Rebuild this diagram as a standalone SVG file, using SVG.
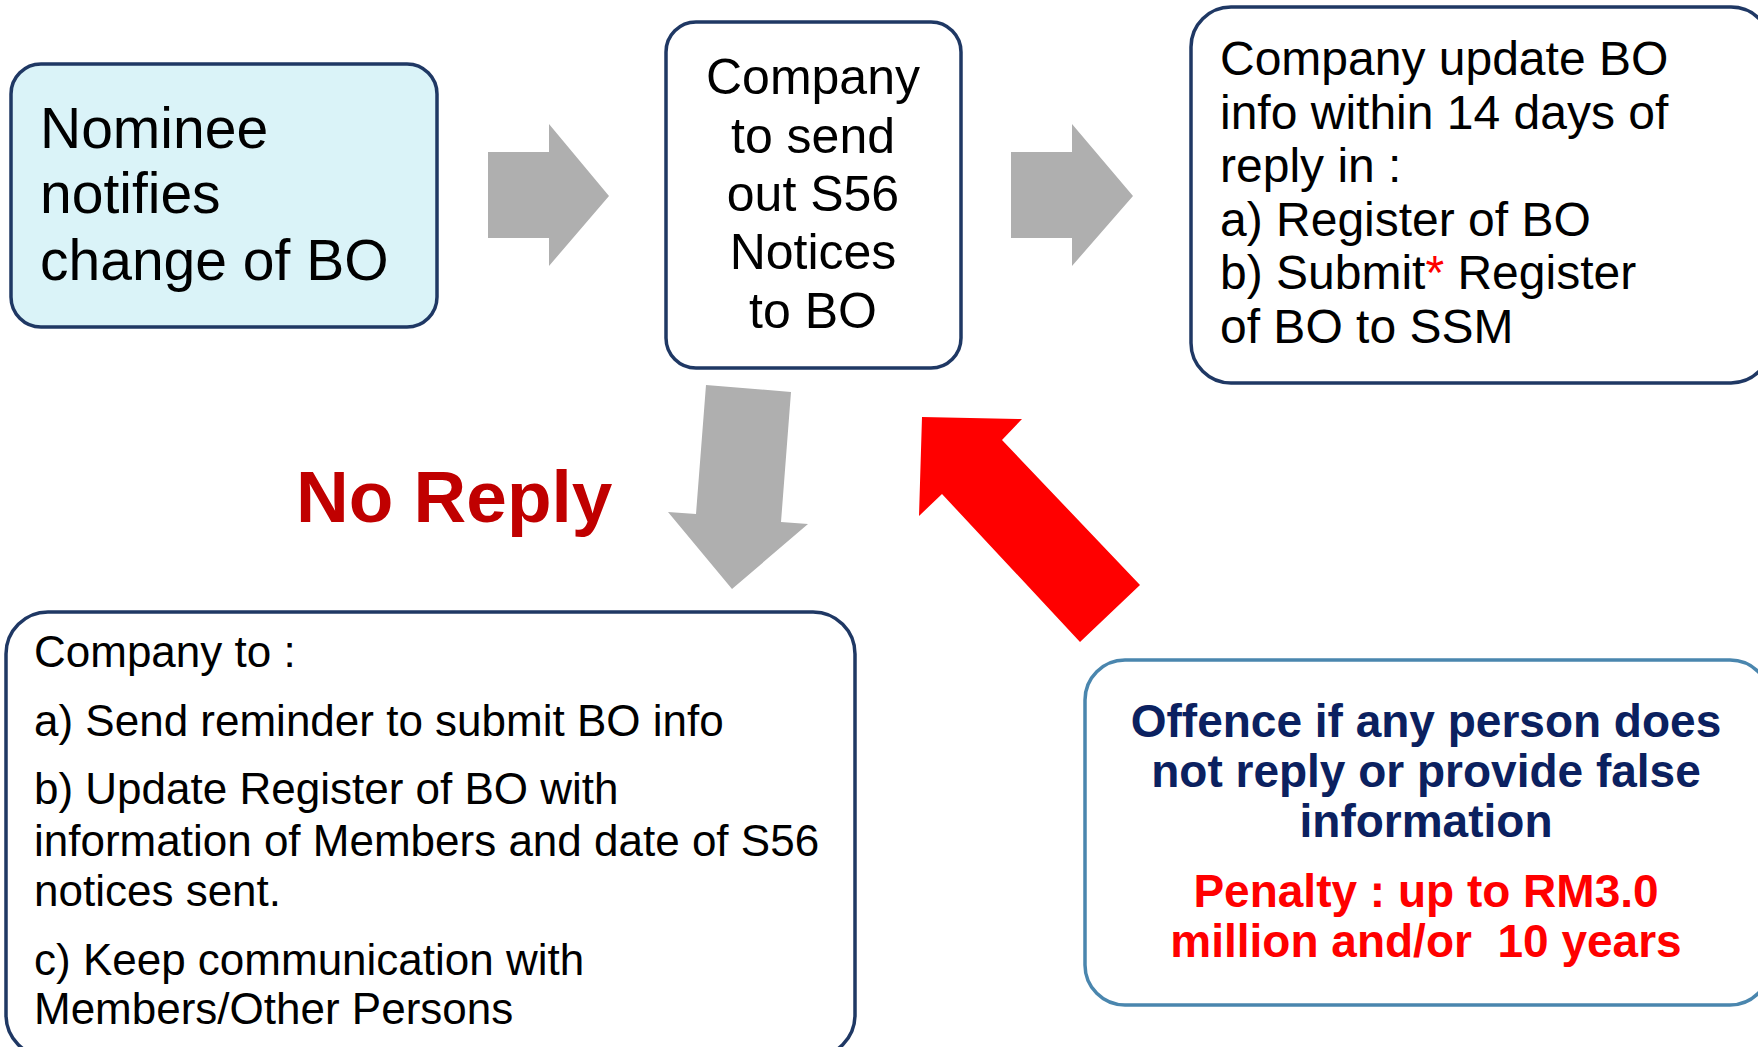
<svg xmlns="http://www.w3.org/2000/svg" width="1758" height="1047" viewBox="0 0 1758 1047">
<style>
.box{fill:#fff;stroke:#1F3864;stroke-width:3.5}
.t{font-family:"Liberation Sans",Arial,sans-serif;fill:#000}
.gray{fill:#AFAFAF}
.b5{font-family:"Liberation Sans",Arial,sans-serif;font-weight:bold;font-size:46px;text-anchor:middle}
</style>
<rect width="1758" height="1047" fill="#fff"/>
<g id="connectors">
<polygon class="gray" points="488,152 549,152 549,124 609,196 549,266 549,238 488,238"/>
<polygon class="gray" points="1011,152 1072,152 1072,124 1133,196 1072,266 1072,238 1011,238"/>
<polygon class="gray" points="706,385 791,392 781,522 808,524 732,589 668,512 696,514"/>
<polygon fill="#FF0000" points="922,417 1022,419 1002,440 1140,585 1080,642 942,494 919,516"/>
</g>
<g id="nominee">
<rect x="11" y="64" width="426" height="263" rx="30" fill="#DAF3F8" stroke="#1F3864" stroke-width="3.5"/>
<text class="t" font-size="57"><tspan x="40" y="148">Nominee</tspan><tspan x="40" y="213">notifies</tspan><tspan x="40" y="280">change of BO</tspan></text>
</g>
<g id="send-notices">
<rect class="box" x="666" y="22" width="295" height="346" rx="30"/>
<text class="t" font-size="50" text-anchor="middle"><tspan x="813" y="94">Company</tspan><tspan x="813" y="153">to send</tspan><tspan x="813" y="211">out S56</tspan><tspan x="813" y="269">Notices</tspan><tspan x="813" y="328">to BO</tspan></text>
</g>
<g id="update-bo">
<rect class="box" x="1191" y="7" width="580" height="376" rx="40"/>
<text class="t" font-size="48"><tspan x="1220" y="75">Company update BO</tspan><tspan x="1220" y="128.5">info within 14 days of</tspan><tspan x="1220" y="182">reply in :</tspan><tspan x="1220" y="235.5">a) Register of BO</tspan><tspan x="1220" y="289">b) Submit<tspan fill="#FF0000">*</tspan> Register</tspan><tspan x="1220" y="342.5">of BO to SSM</tspan></text>
</g>
<g id="no-reply-label">
<text x="296" y="522" font-family="Liberation Sans,Arial,sans-serif" font-weight="bold" font-size="73" fill="#C00000">No Reply</text>
</g>
<g id="company-to">
<rect class="box" x="6" y="612" width="849" height="445" rx="42"/>
<text class="t" font-size="44"><tspan x="34" y="667">Company to :</tspan><tspan x="34" y="736">a) Send reminder to submit BO info</tspan><tspan x="34" y="804">b) Update Register of BO with</tspan><tspan x="34" y="856">information of Members and date of S56</tspan><tspan x="34" y="906">notices sent.</tspan><tspan x="34" y="975">c) Keep communication with</tspan><tspan x="34" y="1024">Members/Other Persons</tspan></text>
</g>
<g id="offence">
<rect x="1085" y="660" width="685" height="345" rx="40" fill="#fff" stroke="#4A86AE" stroke-width="3.5"/>
<text class="b5" fill="#0B2160"><tspan x="1426" y="737">Offence if any person does</tspan><tspan x="1426" y="787">not reply or provide false</tspan><tspan x="1426" y="837">information</tspan></text>
<text class="b5" fill="#FF0000" xml:space="preserve"><tspan x="1426" y="907">Penalty : up to RM3.0</tspan><tspan x="1426" y="957">million and/or  10 years</tspan></text>
</g>
</svg>
